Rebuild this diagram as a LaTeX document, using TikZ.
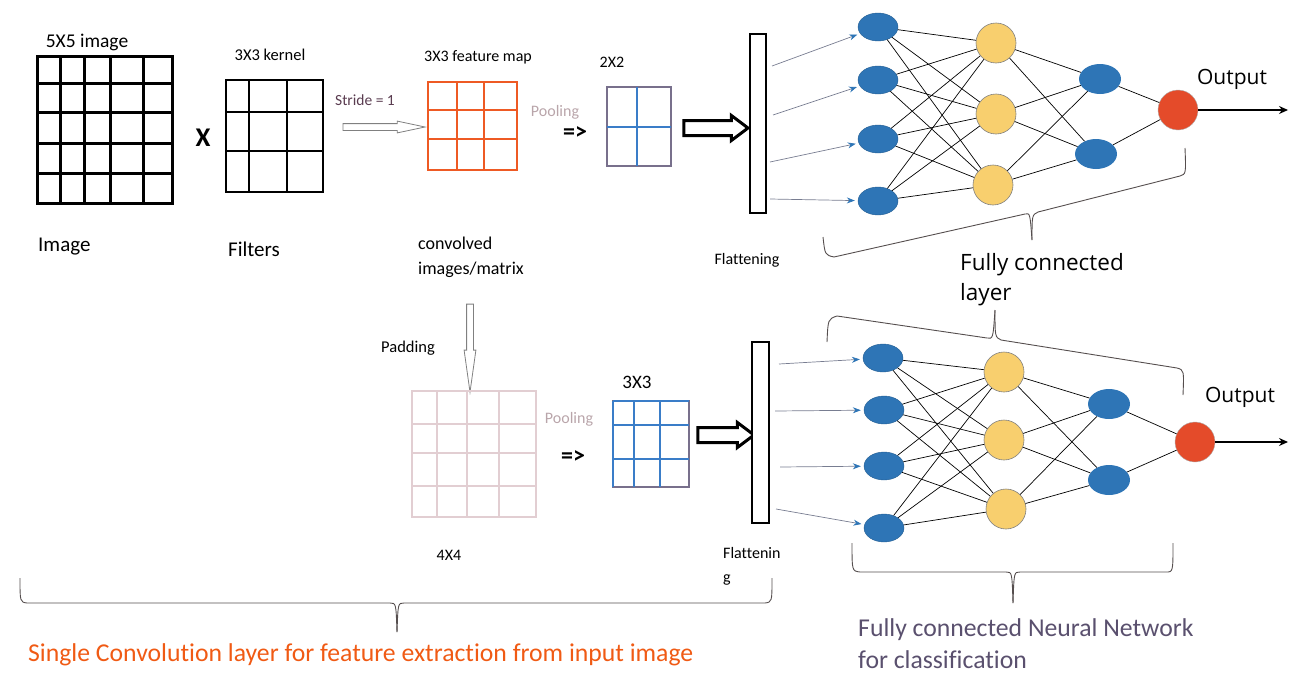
\documentclass[tikz,border=0pt]{standalone}
\usepackage{fontspec}
\setmainfont{Carlito}[Ligatures=NoCommon]
\newfontfamily\osans{Open Sans}
\usetikzlibrary{shapes.geometric,shapes.arrows,arrows.meta}
\definecolor{nblue}{RGB}{46,117,182}
\definecolor{nyellow}{RGB}{248,207,110}
\definecolor{nred}{RGB}{228,75,42}
\definecolor{gblue}{RGB}{58,125,200}
\definecolor{gborder}{RGB}{120,112,140}
\definecolor{gorange}{RGB}{238,90,36}
\definecolor{gpink}{RGB}{226,206,210}
\definecolor{pooltxt}{RGB}{185,165,170}
\definecolor{stridetxt}{RGB}{90,60,80}
\definecolor{inline}{RGB}{120,125,145}
\definecolor{bracec}{RGB}{85,78,78}
\definecolor{convtxt}{RGB}{240,90,20}
\definecolor{fctxt}{RGB}{90,80,110}
\newcommand\fsz[1]{\fontsize{#1}{#1}\selectfont}
\tikzset{
  gridbox/.style={draw, inner sep=0, outer sep=0},
  inode/.style={ellipse, fill=nblue, draw=nblue!80!black, line width=0.4, minimum width=40, minimum height=28, inner sep=0},
  hnode/.style={circle, fill=nyellow, draw=gray, line width=0.6, minimum size=40, inner sep=0},
  onode/.style={ellipse, fill=nblue, draw=none, minimum width=42, minimum height=30, inner sep=0},
  rnode/.style={circle, fill=nred, draw=gray!60, line width=0.4, minimum size=40, inner sep=0},
  wire/.style={black, line width=0.7},
  inarrow/.style={inline, line width=0.7, -{Stealth[length=8,width=6,color=nblue]}, shorten >=3},
  outarrow/.style={black, line width=1.4, -{Stealth[length=9,width=8]}},
  bigarrow/.style={single arrow, draw=black, fill=white, line width=3, minimum height=64, inner xsep=0, inner ysep=6, single arrow head extend=5, single arrow tip angle=74},
  thinarrow/.style={single arrow, draw=gray, fill=white, line width=0.8, inner xsep=0, inner ysep=3, single arrow head extend=2.5},
  bracel/.style={bracec, line width=0.9},
  flatbar/.style={draw=black, line width=2, fill=white, inner sep=0},
  lbl/.style={inner sep=0, text=black}
}
\begin{document}
\begin{tikzpicture}[x=1pt,y=-1pt]
\useasboundingbox (0,0) rectangle (1289,688);
% ---------- top row : image ----------
\node[gridbox, line width=3, minimum width=135, minimum height=147] (img) at (104.5,129.5) {};
\foreach \x in {60,84,110,143} \draw[line width=3] (\x,56) -- (\x,203);
\foreach \y in {83,112,143,173} \draw[line width=3] (37,\y) -- (172,\y);
\node[lbl, font=\fsz{19.5}] (imgt) at (87,42) {5X5 image};
\node[lbl, font=\fsz{21}, anchor=west] (imglab) at (38,247) {Image};
\node[lbl, font=\bfseries\fsz{27}] (times) at (203,138) {X};
% kernel
\node[gridbox, line width=2, minimum width=97, minimum height=112] (ker) at (274.5,136) {};
\foreach \x in {249,287} \draw[line width=2] (\x,80) -- (\x,192);
\foreach \y in {112,151} \draw[line width=2] (226,\y) -- (323,\y);
\node[lbl, font=\fsz{16.5}] (kert) at (270,55) {3X3 kernel};
\node[lbl, font=\fsz{21}] (filt) at (254,249) {Filters};
% stride arrow
\node[lbl, font=\fsz{15.5}, text=stridetxt] (stride) at (365,100) {Stride = 1};
\node[thinarrow, minimum height=82, single arrow tip angle=24] (sarr) at (376,127) {};
% feature map
\node[gridbox, draw=gorange, line width=2, minimum width=89, minimum height=88] (fmap) at (472.5,126) {};
\foreach \x in {457,484} \draw[gorange, line width=2] (\x,82) -- (\x,170);
\foreach \y in {110,139} \draw[gorange, line width=2] (428,\y) -- (517,\y);
\node[lbl, font=\fsz{16}] (fmapt) at (478,57) {3X3 feature map};
\node[lbl, font=\fsz{16}, text=pooltxt] (pool1) at (555,112) {Pooling};
\node[lbl, font=\bfseries\fsz{24}] (imp1) at (575,133) {=>};
% 2x2
\node[gridbox, draw=gborder, line width=1.6, minimum width=64, minimum height=79] (p22) at (639,126.5) {};
\draw[gblue, line width=1.6] (637,87) -- (637,166);
\draw[gblue, line width=1.6] (607,127) -- (671,127);
\node[lbl, font=\fsz{16}] (p22t) at (612,62) {2X2};
\node[bigarrow] (barr1) at (711,128) {};
% flatten bar
\node[flatbar, minimum width=16, minimum height=179] (flat1) at (758,123.5) {};
\node[lbl, font=\fsz{16}] (flat1t) at (747,260) {Flattening};
\node[lbl, font=\fsz{18}, anchor=west] (conv1) at (418,243) {convolved};
\node[lbl, font=\fsz{18}, anchor=west] (conv2) at (418,270) {images/matrix};
% ---------- top network ----------
\node[inode] (ti1) at (878,27) {};
\node[inode] (ti2) at (878,80) {};
\node[inode] (ti3) at (878,139) {};
\node[inode] (ti4) at (878,201) {};
\node[hnode] (th1) at (996,43) {};
\node[hnode] (th2) at (996,114) {};
\node[hnode] (th3) at (993,185) {};
\node[onode] (to1) at (1100,79) {};
\node[onode] (to2) at (1096,154) {};
\node[rnode] (tout) at (1178,110) {};
\foreach \i in {1,...,4} \foreach \j in {1,2,3} \draw[wire] (ti\i) -- (th\j);
\foreach \j in {1,2,3} \foreach \k in {1,2} \draw[wire] (th\j) -- (to\k);
\foreach \k in {1,2} \draw[wire] (to\k) -- (tout);
\coordinate (tend) at (1288,110);
\draw[outarrow] (tout) -- (tend);
\coordinate (ts1) at (772,66);
\coordinate (ts2) at (773,115);
\coordinate (ts3) at (770,162);
\coordinate (ts4) at (770,199);
\foreach \i in {1,...,4} \draw[inarrow] (ts\i) -- (ti\i);
\node[lbl, font=\osans\fsz{21}] (tolab) at (1232,79) {Output};
% tilted brace top
\draw[bracel] (823,237) .. controls (825,255) .. (834,257) -- (1025,214) .. controls (1030,213) .. (1032,240);
\draw[bracel] (1032,240) .. controls (1032,215) .. (1038,212) -- (1180,176) .. controls (1186,174) .. (1185,148);
\node[lbl, font=\osans\fsz{22.5}, anchor=west] (fc1) at (960,265) {Fully connected};
\node[lbl, font=\osans\fsz{22.5}, anchor=west] (fc2) at (960,295) {layer};
% ---------- bottom row ----------
\node[thinarrow, minimum height=88, single arrow tip angle=16, rotate=-90] (parr) at (470,336) {};
\node[lbl, font=\fsz{16.5}] (padt) at (408,348) {Padding};
\node[gridbox, draw=gpink, line width=2.2, minimum width=124, minimum height=126] (g44) at (474,454) {};
\foreach \x in {437,467,499} \draw[gpink, line width=2.2] (\x,391) -- (\x,517);
\foreach \y in {424,453,486} \draw[gpink, line width=2.2] (412,\y) -- (536,\y);
\node[lbl, font=\fsz{16}] (g44t) at (449,555) {4X4};
\node[lbl, font=\fsz{16}, text=pooltxt] (pool2) at (569,419) {Pooling};
\node[lbl, font=\bfseries\fsz{24}] (imp2) at (573,457) {=>};
\node[gridbox, draw=gborder, line width=1.6, minimum width=76, minimum height=86] (p33) at (651,444) {};
\foreach \x in {634,660} \draw[gblue, line width=1.6] (\x,401) -- (\x,487);
\foreach \y in {425,459} \draw[gblue, line width=1.6] (613,\y) -- (689,\y);
\draw[gblue, line width=1.6] (613,401) -- (689,401);
\draw[gblue, line width=1.6] (613,401) -- (613,487);
\node[lbl, font=\fsz{19}] (p33t) at (637,382) {3X3};
\node[bigarrow, minimum height=56] (barr2) at (721,435) {};
\node[flatbar, minimum width=17, minimum height=181] (flat2) at (760.5,432.5) {};
\node[lbl, font=\fsz{16}, anchor=west] (flat2a) at (723,553) {Flattenin};
\node[lbl, font=\fsz{16}, anchor=west] (flat2b) at (723,580) {g};
% ---------- bottom network ----------
\node[inode] (bi1) at (883,358) {};
\node[inode] (bi2) at (884,410) {};
\node[inode] (bi3) at (884,466) {};
\node[inode] (bi4) at (884,528) {};
\node[hnode] (bh1) at (1004,372) {};
\node[hnode] (bh2) at (1004,440) {};
\node[hnode] (bh3) at (1006,509) {};
\node[onode] (bo1) at (1109,404) {};
\node[onode] (bo2) at (1109,480) {};
\node[rnode] (bout) at (1195,442) {};
\foreach \i in {1,...,4} \foreach \j in {1,2,3} \draw[wire] (bi\i) -- (bh\j);
\foreach \j in {1,2,3} \foreach \k in {1,2} \draw[wire] (bh\j) -- (bo\k);
\foreach \k in {1,2} \draw[wire] (bo\k) -- (bout);
\coordinate (bend) at (1288,442);
\draw[outarrow] (bout) -- (bend);
\coordinate (bs1) at (779,364);
\coordinate (bs2) at (775,411);
\coordinate (bs3) at (780,467);
\coordinate (bs4) at (776,509);
\foreach \i in {1,...,4} \draw[inarrow] (bs\i) -- (bi\i);
\node[lbl, font=\osans\fsz{21}] (bolab) at (1240,397) {Output};
% tilted brace bottom net (upper)
\draw[bracel] (827,342) .. controls (828,319) .. (837,316) -- (987,338) .. controls (993,339) .. (995,310);
\draw[bracel] (995,310) .. controls (995,337) .. (1001,340) -- (1177,368) .. controls (1184,370) .. (1183,395);
% bottom brace (network)
\draw[bracel] (852,543) .. controls (852,571) .. (860,572) -- (1006,572) .. controls (1012,572) .. (1013,603);
\draw[bracel] (1013,603) .. controls (1014,572) .. (1020,572) -- (1166,572) .. controls (1173,572) .. (1173,543);
\node[lbl, font=\fsz{25.7}, text=fctxt, anchor=west] (fcnn1) at (858,630) {Fully connected Neural Network};
\node[lbl, font=\fsz{25.7}, text=fctxt, anchor=west] (fcnn2) at (858,660) {for classification};
% big left brace
\draw[bracel] (20,578) .. controls (20,602) .. (27,603) -- (390,603) .. controls (396,603) .. (397,632);
\draw[bracel] (397,632) .. controls (398,603) .. (404,603) -- (765,603) .. controls (772,602) .. (772,578);
\node[lbl, font=\fsz{25.7}, text=convtxt, anchor=west] (convlab) at (28,655) {Single Convolution layer for feature extraction from input image};
\end{tikzpicture}
\end{document}
